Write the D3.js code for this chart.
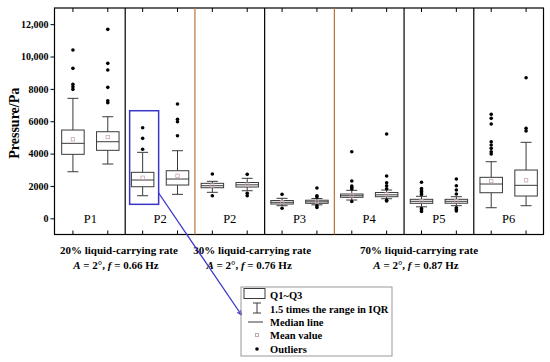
<!DOCTYPE html>
<meta charset="utf-8">
<head>
<script src="https://d3js.org/d3.v7.min.js"></script>
<style>
  body { margin: 0; background: #fff; }
</style>
</head>
<body>
<div id="chart"></div>
<script>
  // group labels (two boxes each)
  var groups = ["P1", "P2", "P2", "P3", "P4", "P5", "P6"];
  // flow condition under the axis
  var condLabels = ["20% liquid-carrying rate", "30% liquid-carrying rate", "70% liquid-carrying rate"];
  var condFreq = ["0.66", "0.76", "0.87"];
  var condGroups = [[0, 1], [2, 3], [4, 5, 6]];

  // box statistics, one entry per box (14 boxes)
  var q1 =   [3955, 4203, 1953, 2058, 1891, 1934, 884, 927, 1298, 1335, 927, 933, 1582, 1378];
  var med =  [4635, 4734, 2367, 2429, 2015, 2070, 989, 1020, 1397, 1452, 1051, 1051, 2120, 2040];
  var q3 =   [5457, 5352, 2843, 2942, 2163, 2213, 1100, 1119, 1502, 1595, 1174, 1174, 2534, 2985];
  var wLow = [2880, 3356, 1397, 1483, 1607, 1706, 779, 834, 1131, 1211, 711, 779, 655, 779];
  var wHigh = [7416, 6279, 4079, 4178, 2287, 2472, 1236, 1224, 1730, 1749, 1360, 1335, 3498, 4697];
  var means = [4883, 5025, 2509, 2633, 2030, 2080, 1000, 1030, 1420, 1480, 1060, 1060, 2305, 2349];
  var outliers = [
    [10402, 9271, 8282, 8134, 7973],
    [11681, 9580, 9166, 8096, 7268, 7145],
    [5600, 4944, 4265],
    [7064, 6119, 5970, 5105],
    [2738, 1397],
    [2719, 1545, 1397],
    [1483, 618],
    [1873, 1390, 1316, 779, 667],
    [4116, 2305, 1996, 1904, 1811, 1038],
    [5210, 2614, 2200, 2015, 1829, 1112, 1069],
    [2225, 1842, 1749, 1656, 1564, 1471, 606, 513, 420],
    [2429, 2015, 1749, 1502, 655, 556, 451],
    [6428, 6180, 5828, 4734, 4530, 4326, 4116, 3974],
    [8690, 5562, 5396]
  ];
  var yTicks = [0, 2000, 4000, 6000, 8000, 10000, 12000];
  var legendItems = ["Q1~Q3", "1.5 times the range in IQR", "Median line", "Mean value", "Outliers"];

  var W = 550, H = 362;
  var plotL = 54.5, plotR = 543.5, plotT = 8, plotB = 234.5;
  var boxW = 22.5, capW = 11;
  var boxColor = "#3a3a3a", meanColor = "#c8a6b0", condLine = "#b8733a", blue = "#3a36c8";
  var serif = "'Liberation Serif', 'Times New Roman', 'DejaVu Serif', serif";

  var svg = d3.select("#chart").append("svg")
          .attr("width", W).attr("height", H);

  var nBox = q1.length;
  var x = d3.scaleLinear().domain([-0.5, nBox - 0.5]).range([plotL + 1, plotR]);
  var y = d3.scaleLinear().domain([-1000, 13000]).range([plotB, plotT]);

  var fmt = function(d){ return d >= 10000 ? d3.format(",")(d) : String(d); };

  // y axis
  var yAxis = svg.append("g")
          .attr("transform", "translate(" + plotL + ",0)")
          .call(d3.axisLeft(y).tickValues(yTicks).tickFormat(fmt).tickSize(4).tickPadding(2));
  yAxis.select(".domain").remove();
  yAxis.selectAll("line").attr("stroke", "#000");
  yAxis.selectAll("text").attr("fill", "#000")
          .style("font-family", serif).style("font-size", "10px").style("font-weight", "bold");

  // frame
  svg.append("rect")
          .attr("x", plotL).attr("y", plotT)
          .attr("width", plotR - plotL).attr("height", plotB - plotT)
          .attr("fill", "none").attr("stroke", "#000").attr("stroke-width", 1.2);

  // inward ticks top/bottom at box positions
  var idx = d3.range(nBox);
  svg.selectAll("line.btick").data(idx).enter().append("line")
          .attr("x1", d => x(d)).attr("x2", d => x(d))
          .attr("y1", plotB).attr("y2", plotB - 4)
          .attr("stroke", "#000");
  svg.selectAll("line.ttick").data(idx).enter().append("line")
          .attr("x1", d => x(d)).attr("x2", d => x(d))
          .attr("y1", plotT).attr("y2", plotT + 4)
          .attr("stroke", "#000");

  // group separators
  var condEnds = condGroups.map(g => g[g.length - 1]);
  svg.selectAll("line.sep").data(d3.range(groups.length - 1)).enter().append("line")
          .attr("x1", d => x(d * 2 + 1.5)).attr("x2", d => x(d * 2 + 1.5))
          .attr("y1", plotT).attr("y2", plotB)
          .attr("stroke", d => condEnds.indexOf(d) >= 0 ? condLine : "#000")
          .attr("stroke-width", 1.2);

  // group labels
  svg.selectAll("text.grp").data(groups).enter().append("text")
          .attr("x", (d, i) => x(i * 2 + 0.5))
          .attr("y", y(0) + 4.5)
          .attr("text-anchor", "middle")
          .style("font-family", serif).style("font-size", "12.5px")
          .text(d => d);

  // boxes
  var g = svg.selectAll("g.box").data(idx).enter().append("g").attr("class", "box");
  g.append("line")
          .attr("x1", d => x(d)).attr("x2", d => x(d))
          .attr("y1", d => y(wHigh[d])).attr("y2", d => y(q3[d]))
          .attr("stroke", boxColor);
  g.append("line")
          .attr("x1", d => x(d)).attr("x2", d => x(d))
          .attr("y1", d => y(q1[d])).attr("y2", d => y(wLow[d]))
          .attr("stroke", boxColor);
  g.append("line")
          .attr("x1", d => x(d) - capW / 2).attr("x2", d => x(d) + capW / 2)
          .attr("y1", d => y(wHigh[d])).attr("y2", d => y(wHigh[d]))
          .attr("stroke", boxColor);
  g.append("line")
          .attr("x1", d => x(d) - capW / 2).attr("x2", d => x(d) + capW / 2)
          .attr("y1", d => y(wLow[d])).attr("y2", d => y(wLow[d]))
          .attr("stroke", boxColor);
  g.append("rect")
          .attr("x", d => x(d) - boxW / 2).attr("width", boxW)
          .attr("y", d => y(q3[d])).attr("height", d => y(q1[d]) - y(q3[d]))
          .attr("fill", "none").attr("stroke", boxColor);
  g.append("line")
          .attr("x1", d => x(d) - boxW / 2).attr("x2", d => x(d) + boxW / 2)
          .attr("y1", d => y(med[d])).attr("y2", d => y(med[d]))
          .attr("stroke", boxColor);
  g.append("rect")
          .attr("x", d => x(d) - 1.7).attr("y", d => y(means[d]) - 1.7)
          .attr("width", 3.4).attr("height", 3.4)
          .attr("fill", "none").attr("stroke", meanColor).attr("stroke-width", 0.8);
  g.selectAll("circle").data(d => outliers[d].map(v => ({i: d, v: v}))).enter().append("circle")
          .attr("cx", d => x(d.i)).attr("cy", d => y(d.v))
          .attr("r", 1.8).attr("fill", "#000");

  // y label
  svg.append("text")
          .attr("transform", "translate(19," + ((plotT + plotB) / 2 + 2) + ") rotate(-90)")
          .attr("text-anchor", "middle")
          .style("font-family", serif).style("font-size", "14px").style("font-weight", "bold")
          .text("Pressure/Pa");

  // condition labels
  var condX = [1.32, 5.14, 9.93];
  condLabels.forEach(function(t, i){
    svg.append("text")
            .attr("x", x(condX[i])).attr("y", 254)
            .attr("text-anchor", "middle")
            .style("font-family", serif).style("font-size", "11px").style("font-weight", "bold")
            .text(t);
    var tx = svg.append("text")
            .attr("x", x(condX[i]) - 3).attr("y", 269)
            .attr("text-anchor", "middle")
            .style("font-family", serif).style("font-size", "11px").style("font-weight", "bold");
    tx.append("tspan").style("font-style", "italic").text("A");
    tx.append("tspan").text(" = 2°, ");
    tx.append("tspan").style("font-style", "italic").text("f");
    tx.append("tspan").text(" = " + condFreq[i] + " Hz");
  });

  // highlight box + pointer
  var hx = x(2);
  svg.append("rect")
          .attr("x", hx - 13).attr("y", y(6650))
          .attr("width", 29).attr("height", y(865) - y(6650))
          .attr("fill", "none").attr("stroke", blue).attr("stroke-width", 1.5);
  var lx0 = hx + 16, ly0 = 193, lx1 = 241.5, ly1 = 315;
  svg.append("line")
          .attr("x1", lx0).attr("y1", ly0).attr("x2", lx1).attr("y2", ly1)
          .attr("stroke", blue).attr("stroke-width", 1.3);
  var ang = Math.atan2(ly1 - ly0, lx1 - lx0);
  var ah = 5;
  svg.append("path")
          .attr("d", "M" + lx1 + "," + ly1 +
                  "L" + (lx1 - ah * Math.cos(ang - 0.4)) + "," + (ly1 - ah * Math.sin(ang - 0.4)) +
                  "M" + lx1 + "," + ly1 +
                  "L" + (lx1 - ah * Math.cos(ang + 0.4)) + "," + (ly1 - ah * Math.sin(ang + 0.4)))
          .attr("stroke", blue).attr("stroke-width", 1.2).attr("fill", "none");

  // legend
  var lg = svg.append("g");
  lg.append("rect").attr("x", 241).attr("y", 287).attr("width", 151).attr("height", 69)
          .attr("fill", "none").attr("stroke", "#999");
  var ly = [295, 309, 322, 335, 349];
  lg.selectAll("text").data(legendItems).enter().append("text")
          .attr("x", 270).attr("y", (d, i) => ly[i]).attr("dy", "0.35em")
          .style("font-family", serif).style("font-size", "10.5px").style("font-weight", "bold")
          .text(d => d);
  lg.append("rect").attr("x", 244).attr("y", 288.5).attr("width", 21).attr("height", 10)
          .attr("fill", "none").attr("stroke", boxColor);
  lg.append("line").attr("x1", 257).attr("x2", 257).attr("y1", 303).attr("y2", 313).attr("stroke", boxColor);
  lg.append("line").attr("x1", 253).attr("x2", 261).attr("y1", 303).attr("y2", 303).attr("stroke", boxColor);
  lg.append("line").attr("x1", 253).attr("x2", 261).attr("y1", 313).attr("y2", 313).attr("stroke", boxColor);
  lg.append("line").attr("x1", 248).attr("x2", 263).attr("y1", 322).attr("y2", 322).attr("stroke", boxColor);
  lg.append("rect").attr("x", 255.5).attr("y", 333.5).attr("width", 3).attr("height", 3)
          .attr("fill", "none").attr("stroke", meanColor);
  lg.append("circle").attr("cx", 257).attr("cy", 349).attr("r", 1.8).attr("fill", "#000");
</script>
</body>
